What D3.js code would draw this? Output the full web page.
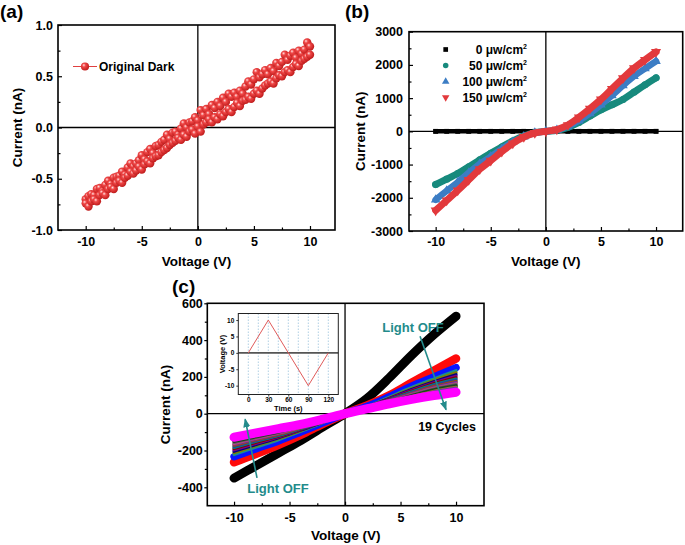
<!DOCTYPE html>
<html>
<head>
<meta charset="utf-8">
<script src="https://cdn.jsdelivr.net/npm/d3@7"></script>
<style>
body { margin: 0; background: #fff; }
svg text { font-family: "Liberation Sans", Arial, sans-serif; font-weight: bold; }
</style>
</head>
<body>
<svg id="fig" width="685" height="545"></svg>
<script>
// ---- Panel (a): dark I-V, two sweep branches, 0.25 V steps ----
const aVolt = d3.range(-10, 10.001, 0.25);
const aUpper = [
  -0.70,-0.67,-0.65,-0.66,-0.60,-0.59,-0.62,-0.56,-0.52,-0.55,
  -0.49,-0.48,-0.47,-0.43,-0.46,-0.39,-0.35,-0.38,-0.35,-0.32,
  -0.27,-0.31,-0.24,-0.21,-0.25,-0.18,-0.17,-0.14,-0.12,-0.07,
  -0.11,-0.05,-0.04,-0.07,-0.01, 0.04, 0.00, 0.05, 0.06, 0.10,
   0.07, 0.17, 0.12, 0.18, 0.13, 0.22, 0.19, 0.25, 0.21, 0.29,
   0.25, 0.33, 0.30, 0.34, 0.30, 0.36, 0.33, 0.40, 0.45, 0.42,
   0.47, 0.54, 0.49, 0.52, 0.56, 0.52, 0.58, 0.55, 0.63, 0.60,
   0.64, 0.71, 0.66, 0.70, 0.73, 0.68, 0.75, 0.72, 0.76, 0.83,
   0.79];
const aLower = [
  -0.74,-0.77,-0.72,-0.70,-0.72,-0.66,-0.64,-0.66,-0.60,-0.58,
  -0.60,-0.54,-0.52,-0.54,-0.49,-0.47,-0.43,-0.45,-0.42,-0.38,
  -0.41,-0.36,-0.33,-0.35,-0.30,-0.28,-0.27,-0.24,-0.22,-0.20,
  -0.17,-0.15,-0.13,-0.10,-0.12,-0.07,-0.09,-0.04,-0.02,-0.06,
   0.01,-0.04, 0.03, 0.05, 0.08, 0.05, 0.10, 0.08, 0.13, 0.11,
   0.15, 0.18, 0.15, 0.20, 0.24, 0.21, 0.26, 0.27, 0.30, 0.28,
   0.33, 0.36, 0.33, 0.38, 0.41, 0.43, 0.45, 0.43, 0.48, 0.51,
   0.50, 0.54, 0.56, 0.54, 0.59, 0.62, 0.60, 0.65, 0.67, 0.69,
   0.71];

// ---- Panel (b): I-V under illumination, 1 V steps ----
const bVolt = d3.range(-10, 10.001, 1);
const b0   = [-0.7,-0.6,-0.5,-0.5,-0.4,-0.3,-0.3,-0.2,-0.1,0,0,0.1,0.2,0.2,0.3,0.4,0.4,0.5,0.6,0.7,0.8];
const b50  = [-1600,-1440,-1270,-1070,-860,-660,-470,-290,-140,-40,0,30,120,270,460,650,800,960,1180,1400,1610];
const b100 = [-2060,-1790,-1530,-1250,-980,-760,-530,-320,-160,-45,0,40,150,320,540,800,1080,1380,1660,1890,2110];
const b150 = [-2380,-2080,-1780,-1460,-1140,-880,-610,-360,-170,-50,0,55,190,420,680,960,1280,1600,1900,2150,2390];
const bLabels = ["0", "50", "100", "150"];

// ---- Panel (c): 19 cycles, 2 V steps ----
const cVolt = d3.range(-10, 10.001, 2);
const cycles = [
  [-350,-282,-214,-146,-72,0,84,196,318,430,530],   // 1
  [-264,-218,-169,-115,-55,0,45,100,168,234,300],   // 2
  [-234,-190,-148,-100,-50,0,40,93,150,200,250],    // 3
  [-222,-181,-141,-96,-48,0,38,90,142,189,234],
  [-212,-173,-135,-92,-46,0,37,86,136,181,222],
  [-204,-167,-130,-89,-45,0,36,83,131,174,212],
  [-196,-161,-126,-86,-44,0,35,80,126,168,203],
  [-189,-155,-122,-84,-43,0,34,77,122,162,195],
  [-183,-150,-118,-81,-42,0,33,75,118,157,188],
  [-177,-146,-115,-79,-41,0,33,73,114,152,181],
  [-171,-141,-111,-77,-40,0,32,71,110,147,175],
  [-166,-137,-108,-75,-39,0,32,69,107,142,169],
  [-161,-133,-105,-73,-38,0,31,67,104,138,163],
  [-156,-129,-102,-71,-37,0,31,66,101,134,158],
  [-151,-125,-99,-69,-36,0,30,64,98,130,153],
  [-146,-121,-96,-67,-35,0,30,62,95,126,148],
  [-141,-117,-93,-65,-34,0,29,60,92,122,143],
  [-136,-113,-90,-63,-33,0,29,59,89,118,138],
  [-128,-104,-81,-58,-30,0,27,54,78,99,117]         // 19
];
const cycleColors = ["#000000","#ff0a0a","#0a14ff","#1a8f8f","#7f7f00","#000080","#800080","#800000",
  "#008080","#2040a0","#a05000","#6a2a9a","#c04080","#606060","#303030","#006000","#a06040","#6040a0","#ff00ff"];

// inset: applied voltage ramp
const insetTime = [0, 30, 90, 120];
const insetVolt = [0, 10, -10, 0];
const insetGrid = d3.range(0, 120.001, 15);

const teal = "#238b8b";
const svg = d3.select("#fig");
svg.append("rect").attr("width", 685).attr("height", 545).attr("fill", "#fff");

const defs = svg.append("defs");
const grad = defs.append("radialGradient").attr("id", "ball").attr("cx", "40%").attr("cy", "40%").attr("r", "60%").attr("fx", "35%").attr("fy", "32%");
grad.append("stop").attr("offset", "0%").attr("stop-color", "#ffe0e0");
grad.append("stop").attr("offset", "35%").attr("stop-color", "#f04848");
grad.append("stop").attr("offset", "100%").attr("stop-color", "#c01c1c");
defs.append("marker").attr("id", "arr").attr("markerUnits", "userSpaceOnUse")
  .attr("markerWidth", 9).attr("markerHeight", 7).attr("refX", 8).attr("refY", 3.5).attr("orient", "auto")
  .append("path").attr("d", "M0,0 L9,3.5 L0,7 z").attr("fill", teal);

// builds frame, zero lines and ticks for one panel
function panel(o) {
  const x = d3.scaleLinear().domain(o.xd).range([o.l, o.r]);
  const y = d3.scaleLinear().domain(o.yd).range([o.b, o.t]);
  const back = svg.append("g");
  const plot = svg.append("g");
  const front = svg.append("g");

  back.append("line").attr("x1", x(0)).attr("x2", x(0)).attr("y1", o.t).attr("y2", o.b)
    .attr("stroke", "#000").attr("stroke-width", 1.3);
  back.append("line").attr("x1", o.l).attr("x2", o.r).attr("y1", y(0)).attr("y2", y(0))
    .attr("stroke", "#000").attr("stroke-width", 1.3);

  front.append("g").attr("transform", `translate(0,${o.b})`)
    .call(d3.axisBottom(x).tickValues(o.xt).tickSize(-4).tickPadding(o.xpad).tickFormat(d => String(d)));
  front.append("g").attr("transform", `translate(0,${o.b})`)
    .call(d3.axisBottom(x).tickValues(o.xm).tickSize(-2.5).tickFormat(""));
  front.append("g").attr("transform", `translate(${o.l},0)`)
    .call(d3.axisLeft(y).tickValues(o.yt).tickSize(o.ytick).tickPadding(o.ypad).tickFormat(o.yf));
  front.append("g").attr("transform", `translate(${o.l},0)`)
    .call(d3.axisLeft(y).tickValues(o.ym).tickSize(o.ytick > 0 ? 2.5 : -2.5).tickFormat(""));
  front.selectAll(".domain").remove();
  front.selectAll(".tick line").attr("stroke-width", 1.2);
  front.selectAll(".tick text").attr("font-size", 12.5);

  front.append("rect").attr("x", o.l).attr("y", o.t).attr("width", o.r - o.l).attr("height", o.b - o.t)
    .attr("fill", "none").attr("stroke", "#000").attr("stroke-width", 1.6);

  front.append("text").attr("transform", `translate(${o.ytx},${(o.t + o.b) / 2}) rotate(-90)`)
    .attr("text-anchor", "middle").attr("font-size", 13.5).text("Current (nA)");
  front.append("text").attr("x", (o.l + o.r) / 2).attr("y", o.xty)
    .attr("text-anchor", "middle").attr("font-size", 13.5).text("Voltage (V)");
  front.append("text").attr("x", o.lx).attr("y", o.ly).attr("font-size", 19).text(o.label);
  return { x, y, plot, front };
}

// ===== (a) =====
const pa = panel({
  l: 58, r: 335, t: 25, b: 230, xd: [-12.47, 12.23], yd: [-1, 1],
  xt: [-10, -5, 0, 5, 10], xm: [-7.5, -2.5, 2.5, 7.5],
  yt: [-1, -0.5, 0, 0.5, 1], ym: [-0.75, -0.25, 0.25, 0.75], yf: d => d.toFixed(1),
  xpad: 7, ypad: 5, ytick: -4, ytx: 22, xty: 266, lx: 0, ly: 18, label: "(a)"
});
[aUpper, aLower].forEach(series => {
  pa.plot.append("path").datum(series)
    .attr("d", d3.line().x((d, i) => pa.x(aVolt[i])).y(d => pa.y(d)))
    .attr("fill", "none").attr("stroke", "#e04040").attr("stroke-width", 0.8);
});
[aUpper, aLower].forEach(series => {
  pa.plot.selectAll(null).data(series).join("circle")
    .attr("cx", (d, i) => pa.x(aVolt[i])).attr("cy", d => pa.y(d)).attr("r", 4.2)
    .attr("fill", "url(#ball)");
});
pa.front.append("line").attr("x1", 73).attr("x2", 97).attr("y1", 66.5).attr("y2", 66.5)
  .attr("stroke", "#e04040").attr("stroke-width", 1);
pa.front.append("circle").attr("cx", 85).attr("cy", 66.5).attr("r", 4.1).attr("fill", "url(#ball)");
pa.front.append("text").attr("x", 99).attr("y", 71).attr("font-size", 12).text("Original Dark");

// ===== (b) =====
const pb = panel({
  l: 409, r: 682.7, t: 31.7, b: 231, xd: [-12.42, 12.42], yd: [-3000, 3000],
  xt: [-10, -5, 0, 5, 10], xm: [-7.5, -2.5, 2.5, 7.5],
  yt: d3.range(-3000, 3001, 1000), ym: d3.range(-2500, 2501, 1000), yf: d => String(d),
  xpad: 6, ypad: 6, ytick: -4, ytx: 364.5, xty: 266, lx: 345, ly: 18, label: "(b)"
});
const bSeries = [
  { vals: b0,   color: "#000000", sym: d3.symbolSquare,   rot: 0,   w: 4.5, size: 24 },
  { vals: b50,  color: "#178a7d", sym: d3.symbolCircle,   rot: 0,   w: 7,   size: 40 },
  { vals: b100, color: "#3c7dc4", sym: d3.symbolTriangle, rot: 0,   w: 6.5, size: 40 },
  { vals: b150, color: "#e2393c", sym: d3.symbolTriangle, rot: 180, w: 7,   size: 44 }
];
bSeries.forEach(s => {
  pb.plot.append("path").datum(s.vals)
    .attr("d", d3.line().curve(d3.curveCatmullRom).x((d, i) => pb.x(bVolt[i])).y(d => pb.y(d)))
    .attr("fill", "none").attr("stroke", s.color).attr("stroke-width", s.w)
    .attr("stroke-linecap", s.sym === d3.symbolSquare ? "square" : "round");
  pb.plot.selectAll(null).data(s.vals).join("path")
    .attr("transform", (d, i) => `translate(${pb.x(bVolt[i])},${pb.y(d)}) rotate(${s.rot})`)
    .attr("d", d3.symbol(s.sym, s.size)).attr("fill", s.color);
});
bSeries.forEach((s, k) => {
  const ly = 49.5 + k * 16;
  pb.front.append("path").attr("transform", `translate(445.7,${ly}) rotate(${s.rot})`)
    .attr("d", d3.symbol(s.sym, k === 0 ? 22 : 24)).attr("fill", s.color);
  const t = pb.front.append("text").attr("x", 527).attr("y", ly + 4.3).attr("text-anchor", "end").attr("font-size", 12);
  t.append("tspan").text(bLabels[k] + " \u03bcw/cm");
  t.append("tspan").attr("font-size", 7).attr("dy", -5).text("2");
});

// ===== (c) =====
const pc = panel({
  l: 207.3, r: 484, t: 303.3, b: 505.7, xd: [-12.41, 12.52], yd: [-500, 600],
  xt: [-10, -5, 0, 5, 10], xm: [-7.5, -2.5, 2.5, 7.5],
  yt: [-400, -200, 0, 200, 400, 600], ym: [-300, -100, 100, 300, 500], yf: d => String(d),
  xpad: 7, ypad: 1.5, ytick: 3, ytx: 169.5, xty: 540, lx: 172, ly: 293, label: "(c)"
});
cycles.forEach((vals, k) => {
  const w = k === 0 ? 9 : k === 1 ? 8.5 : k === 2 ? 7.5 : k === 18 ? 9 : 3.2;
  pc.plot.append("path").datum(vals)
    .attr("d", d3.line().curve(d3.curveCatmullRom).x((d, i) => pc.x(cVolt[i])).y(d => pc.y(d)))
    .attr("fill", "none").attr("stroke", cycleColors[k]).attr("stroke-width", w)
    .attr("stroke-linecap", "round");
});
// annotations in data units
const arrows = [
  { from: [6.76, 421], to: [9.1, 22] },
  { from: [-7.93, -349], to: [-9.0, -30] }
];
arrows.forEach(a => {
  pc.front.append("line")
    .attr("x1", pc.x(a.from[0])).attr("y1", pc.y(a.from[1]))
    .attr("x2", pc.x(a.to[0])).attr("y2", pc.y(a.to[1]))
    .attr("stroke", teal).attr("stroke-width", 1.6).attr("marker-end", "url(#arr)");
});
pc.front.append("text").attr("x", 413).attr("y", 331.5).attr("text-anchor", "middle")
  .attr("font-size", 13).style("fill", teal).text("Light OFF");
pc.front.append("text").attr("x", 278).attr("y", 493).attr("text-anchor", "middle")
  .attr("font-size", 13).style("fill", teal).text("Light OFF");
pc.front.append("text").attr("x", 447).attr("y", 431).attr("text-anchor", "middle")
  .attr("font-size", 12.5).text("19 Cycles");

// inset
const ix = d3.scaleLinear().domain([-15, 135]).range([238.3, 338.3]);
const iy = d3.scaleLinear().domain([-12.7, 12]).range([394.5, 313.5]);
const ins = pc.front.append("g");
ins.append("rect").attr("x", 238.3).attr("y", 313.5).attr("width", 100).attr("height", 81).attr("fill", "#fff");
ins.selectAll(null).data(insetGrid).join("line")
  .attr("x1", d => ix(d)).attr("x2", d => ix(d)).attr("y1", 313.5).attr("y2", 394.5)
  .attr("stroke", "#9cc3dd").attr("stroke-width", 0.8).attr("stroke-dasharray", "1.5,1.5");
ins.append("line").attr("x1", 238.3).attr("x2", 338.3).attr("y1", iy(0)).attr("y2", iy(0))
  .attr("stroke", "#555").attr("stroke-width", 1.6);
ins.append("path").datum(insetVolt)
  .attr("d", d3.line().x((d, i) => ix(insetTime[i])).y(d => iy(d)))
  .attr("fill", "none").attr("stroke", "#e05a5a").attr("stroke-width", 1);
ins.append("g").attr("transform", "translate(0,394.5)")
  .call(d3.axisBottom(ix).tickValues([0, 30, 60, 90, 120]).tickSize(2).tickPadding(1).tickFormat(d => String(d)));
ins.append("g").attr("transform", "translate(238.3,0)")
  .call(d3.axisLeft(iy).tickValues([-10, -5, 0, 5, 10]).tickSize(2).tickPadding(2).tickFormat(d => String(d)));
ins.selectAll(".domain").remove();
ins.selectAll(".tick text").attr("font-size", 6.5);
ins.selectAll(".tick line").attr("stroke-width", 0.8);
ins.append("rect").attr("x", 238.3).attr("y", 313.5).attr("width", 100).attr("height", 81)
  .attr("fill", "none").attr("stroke", "#222").attr("stroke-width", 1);
ins.append("text").attr("x", 288.3).attr("y", 411).attr("text-anchor", "middle").attr("font-size", 7.5).text("Time (s)");
ins.append("text").attr("transform", "translate(224.5,354) rotate(-90)")
  .attr("text-anchor", "middle").attr("font-size", 7.5).text("Voltage (V)");
</script>
</body>
</html>
